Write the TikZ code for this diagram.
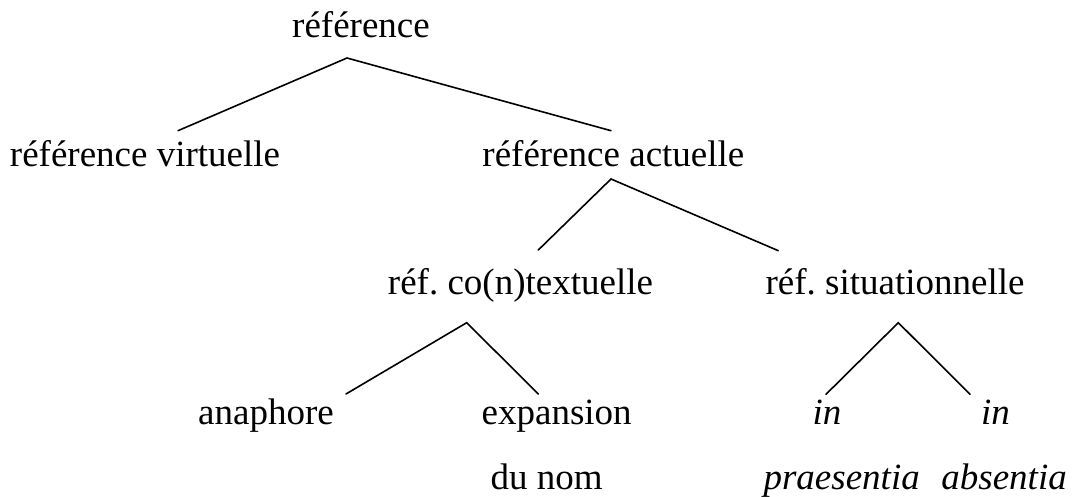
\documentclass[tikz,border=0pt]{standalone}
\usepackage{fontspec}
\setmainfont{Liberation Serif}
\frenchspacing
\begin{document}
\begin{tikzpicture}[x=1pt,y=1pt,
  lbl/.style={inner sep=0pt,anchor=base,font=\fontsize{37}{44}\selectfont},
  ilbl/.style={lbl,font=\fontsize{37}{44}\selectfont\itshape},
  edge/.style={line width=1.6pt,line cap=round,line join=miter}]
\useasboundingbox (0,0) rectangle (1088,496);
% labels
\node[lbl] (ref) at (361,458) {référence};
\node[lbl] (virt) at (145,329) {référence virtuelle};
\node[lbl] (act) at (613.4,329) {référence actuelle};
\node[lbl] (cotx) at (520.5,201) {réf.\ co(n)textuelle};
\node[lbl] (sit) at (895,201) {réf.\ situationnelle};
\node[lbl] (ana) at (266,71) {anaphore};
\node[lbl] (exp) at (556.7,71) {expansion};
\node[lbl] (dunom) at (546.7,7) {du nom};
\node[ilbl] (in1) at (827,71) {in};
\node[ilbl] (in2) at (995.5,71) {in};
\node[ilbl,anchor=base east] (praes) at (920,7) {praesentia};
\node[ilbl,anchor=base east] (abs) at (1067,7) {absentia};
% branch points
\coordinate (a1) at (347,438);
\coordinate (l1) at (178,365.3);
\coordinate (r1) at (611,365.3);
\coordinate (a2) at (611,317);
\coordinate (l2) at (538.3,246);
\coordinate (r2) at (778.3,245.3);
\coordinate (a3) at (466.7,173.3);
\coordinate (l3) at (346,102);
\coordinate (r3) at (538.3,102);
\coordinate (a4) at (898.3,173.3);
\coordinate (l4) at (826,101.7);
\coordinate (r4) at (970,101.7);
% connectors
\draw[edge] (l1) -- (a1) -- (r1);
\draw[edge] (l2) -- (a2) -- (r2);
\draw[edge] (l3) -- (a3) -- (r3);
\draw[edge] (l4) -- (a4) -- (r4);
\end{tikzpicture}
\end{document}
